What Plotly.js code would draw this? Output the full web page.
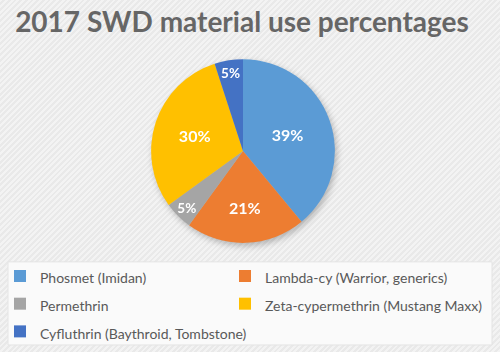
<!DOCTYPE html>
<html>
<head>
<meta charset="utf-8">
<script src="https://cdn.plot.ly/plotly-3.0.1.min.js"></script>
<style>
html,body{margin:0;padding:0;}
body{background:repeating-linear-gradient(135deg,#f3f3f3 0px,#f3f3f3 2px,#e9e9e9 2px,#e9e9e9 4px);}
#chart{width:500px;height:352px;}
.pielayer .trace{filter:drop-shadow(2px 3px 3px rgba(0,0,0,0.25));}
.legend .scrollbox{clip-path:none !important;}
</style>
</head>
<body>
<div id="chart"></div>
<script>
const labels = ["Phosmet (Imidan)", "Lambda-cy (Warrior, generics)", "Permethrin", "Zeta-cypermethrin (Mustang Maxx)", "Cyfluthrin (Baythroid, Tombstone)"];
const percents = [39, 21, 5, 30, 5];
const colors = ["#5B9BD5", "#ED7D31", "#A5A5A5", "#FFC000", "#4472C4"];
const chartTitle = "2017 SWD material use percentages";

const legendLabels = labels.map(l => '<span style="font-size:14px">' + l + '</span>');

const trace = {
  type: "pie",
  labels: legendLabels,
  values: percents,
  sort: false,
  direction: "clockwise",
  rotation: 0,
  marker: {colors: colors, line: {width: 0}},
  texttemplate: "%{value}%",
  textposition: "inside",
  insidetextorientation: "horizontal",
  textfont: {family: "Lato, sans-serif", size: 16, color: "#ffffff", weight: "bold"},
  hoverinfo: "label+percent",
  domain: {x: [0.302, 0.670], y: [0.310, 0.832]}
};

const layout = {
  width: 500, height: 352,
  margin: {l: 0, r: 0, t: 0, b: 0},
  paper_bgcolor: "rgba(0,0,0,0)",
  plot_bgcolor: "rgba(0,0,0,0)",
  title: {
    text: "<b>" + chartTitle + "</b>",
    font: {family: "Lato, sans-serif", size: 28, color: "#666666"},
    x: 0.484, xanchor: "center", y: 0.937, yanchor: "middle"
  },
  showlegend: true,
  legend: {
    orientation: "h",
    x: 0, xanchor: "left",
    y: 0.2695, yanchor: "top",
    entrywidth: 0.45, entrywidthmode: "fraction",
    font: {family: "Lato, sans-serif", size: 19, color: "#595959"},
    bgcolor: "rgba(0,0,0,0)",
    traceorder: "normal"
  },
  shapes: [{
    type: "rect", xref: "paper", yref: "paper",
    x0: 0.016, x1: 0.984, y0: 0.02, y1: 0.256,
    fillcolor: "#fafafa", line: {color: "#e4e4e4", width: 1}, layer: "below"
  }]
};

Plotly.newPlot("chart", [trace], layout, {displayModeBar: false, staticPlot: true});
</script>
</body>
</html>
